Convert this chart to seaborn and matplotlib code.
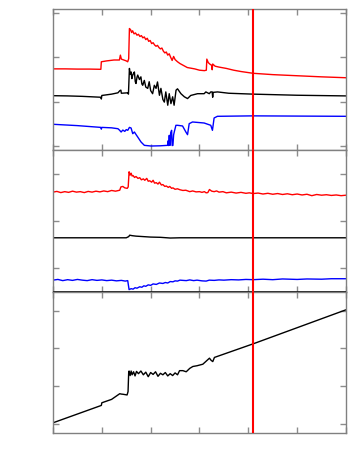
import matplotlib
matplotlib.use('Agg')
import matplotlib.pyplot as plt
import seaborn as sns

# Painel superior
top_red_x = [0, 0.25, 0.5, 0.75, 0.98, 0.99, 1.1, 1.25, 1.36, 1.38, 1.40, 1.45, 1.50, 1.53, 1.55,
             1.565, 1.59, 1.61, 1.63, 1.66, 1.69, 1.72, 1.75, 1.78, 1.81, 1.84, 1.87, 1.90, 1.93, 1.96,
             1.99, 2.02, 2.05, 2.08, 2.11, 2.14, 2.17, 2.20, 2.23, 2.26, 2.29, 2.32, 2.35, 2.38, 2.41,
             2.44, 2.47, 2.50, 2.55, 2.60, 2.65, 2.70, 2.75, 2.80, 2.90, 3.00, 3.10, 3.14, 3.15, 3.18,
             3.22, 3.25, 3.26, 3.27, 3.32, 3.40, 3.55, 3.70, 3.85, 4.1, 4.5, 5.0, 5.5, 6.0]
top_red_y = [1.74, 1.74, 1.735, 1.735, 1.73, 1.90, 1.92, 1.94, 1.94, 2.05, 1.96, 1.94, 1.92, 1.90, 1.97,
             2.65, 2.62, 2.56, 2.60, 2.53, 2.55, 2.50, 2.52, 2.47, 2.49, 2.44, 2.46, 2.40, 2.43, 2.36,
             2.38, 2.31, 2.33, 2.28, 2.25, 2.27, 2.22, 2.19, 2.21, 2.14, 2.10, 2.12, 2.05, 2.08, 2.00,
             1.93, 2.02, 1.95, 1.90, 1.86, 1.83, 1.80, 1.77, 1.76, 1.74, 1.71, 1.70, 1.71, 1.96, 1.88,
             1.84, 1.82, 1.72, 1.85, 1.80, 1.78, 1.75, 1.71, 1.68, 1.64, 1.61, 1.585, 1.56, 1.54]

top_black_x = [0, 0.3, 0.6, 0.98, 0.99, 1.0, 1.2, 1.33, 1.37, 1.39, 1.40, 1.53, 1.545, 1.565, 1.58,
               1.60, 1.615, 1.633, 1.65, 1.667, 1.685, 1.70, 1.72, 1.735, 1.77, 1.80, 1.82, 1.837, 1.87, 1.90,
               1.94, 1.97, 2.00, 2.04, 2.075, 2.11, 2.14, 2.18, 2.21, 2.25, 2.28, 2.31, 2.35, 2.38, 2.415,
               2.45, 2.48, 2.52, 2.55, 2.62, 2.69, 2.755, 2.82, 2.96, 3.095, 3.13, 3.20, 3.23, 3.26, 3.27,
               3.28, 3.37, 3.6, 4.1, 5.0, 6.0]
top_black_y = [1.135, 1.13, 1.12, 1.10, 1.06, 1.14, 1.17, 1.20, 1.25, 1.26, 1.19, 1.20, 1.17, 1.75, 1.62,
               1.67, 1.52, 1.60, 1.64, 1.67, 1.45, 1.41, 1.55, 1.60, 1.50, 1.56, 1.40, 1.37, 1.48, 1.33,
               1.30, 1.45, 1.25, 1.18, 1.37, 1.30, 1.445, 1.144, 1.30, 1.05, 0.99, 1.22, 0.92, 1.18, 0.956,
               1.11, 0.92, 1.26, 1.29, 1.18, 1.11, 1.07, 1.14, 1.18, 1.18, 1.22, 1.18, 1.22, 1.22, 1.10,
               1.21, 1.22, 1.19, 1.17, 1.145, 1.13]

top_blue_x = [0, 0.5, 0.98, 0.99, 1.0, 1.2, 1.33, 1.36, 1.395, 1.43, 1.47, 1.50, 1.531, 1.565, 1.599,
              1.633, 1.667, 1.70, 1.735, 1.803, 1.871, 2.007, 2.20, 2.347, 2.36, 2.37, 2.381, 2.39, 2.401, 2.41,
              2.429, 2.44, 2.456, 2.47, 2.483, 2.517, 2.551, 2.653, 2.721, 2.755, 2.789, 2.857, 3.095, 3.231,
              3.265, 3.299, 3.367, 4.1, 5.0, 6.0]
top_blue_y = [0.49, 0.46, 0.42, 0.38, 0.42, 0.41, 0.39, 0.36, 0.316, 0.36, 0.33, 0.37, 0.354, 0.42, 0.406,
              0.278, 0.316, 0.26, 0.203, 0.09, 0.015, 0.0, 0.005, 0.015, 0.12, 0.01, 0.241, 0.02, 0.015, 0.30,
              0.354, 0.01, 0.015, 0.25, 0.316, 0.467, 0.467, 0.452, 0.316, 0.256, 0.504, 0.542, 0.519, 0.467,
              0.354, 0.632, 0.67, 0.68, 0.675, 0.67]

# Painel do meio
mid_red_x = [0, 0.08, 0.16, 0.24, 0.32, 0.40, 0.48, 0.56, 0.64, 0.72, 0.80, 0.88, 0.96, 1.04, 1.12,
             1.20, 1.28, 1.367,
             1.39, 1.43, 1.47, 1.52, 1.54, 1.558, 1.58, 1.60, 1.62, 1.64, 1.67, 1.70, 1.74, 1.776, 1.81,
             1.85, 1.88, 1.92, 1.95, 1.98, 2.02, 2.05, 2.08, 2.116, 2.15, 2.18, 2.22, 2.25, 2.29, 2.32,
             2.36, 2.39, 2.43, 2.456, 2.50, 2.55, 2.60, 2.66, 2.72, 2.80, 2.86, 2.93, 3.00, 3.05, 3.10,
             3.136, 3.17, 3.204, 3.25, 3.30, 3.35, 3.40, 3.48, 3.55, 3.65, 3.75, 3.85, 3.95, 4.02, 4.1,
             4.2, 4.3, 4.4, 4.5, 4.6, 4.7, 4.8, 4.9, 5.0, 5.1, 5.2, 5.3, 5.4, 5.5, 5.6, 5.7, 5.8, 5.9, 6.0]
mid_red_y = [0.61, 0.625, 0.60, 0.62, 0.605, 0.63, 0.61, 0.62, 0.60, 0.625, 0.61, 0.63, 0.615, 0.635, 0.62,
             0.645, 0.63, 0.65,
             0.72, 0.73, 0.70, 0.69, 0.72, 1.04, 0.97, 1.01, 0.95, 0.96, 0.92, 0.94, 0.90, 0.915, 0.87,
             0.89, 0.86, 0.90, 0.84, 0.85, 0.82, 0.86, 0.80, 0.81, 0.78, 0.82, 0.76, 0.77, 0.73, 0.74,
             0.71, 0.73, 0.69, 0.70, 0.67, 0.68, 0.66, 0.645, 0.65, 0.62, 0.635, 0.615, 0.62, 0.605, 0.62,
             0.595, 0.60, 0.665, 0.63, 0.62, 0.635, 0.61, 0.62, 0.595, 0.61, 0.59, 0.605, 0.585, 0.595, 0.58,
             0.59, 0.57, 0.585, 0.565, 0.58, 0.56, 0.575, 0.555, 0.57, 0.55, 0.565, 0.535, 0.56, 0.545, 0.555,
             0.54, 0.55, 0.535, 0.545]

mid_black_x = [0, 1.0, 1.5, 1.55, 1.571, 1.62, 1.70, 1.85, 2.0, 2.2, 2.4, 2.6, 3.0, 4.0, 5.0, 6.0]
mid_black_y = [-0.355, -0.355, -0.355, -0.33, -0.30, -0.31, -0.32, -0.33, -0.34, -0.345, -0.36, -0.355,
               -0.355, -0.355, -0.355, -0.355]

mid_blue_x = [0, 0.1, 0.2, 0.3, 0.4, 0.5, 0.6, 0.7, 0.8, 0.9, 1.0, 1.1, 1.2, 1.3, 1.4, 1.48, 1.53,
              1.558, 1.60, 1.64, 1.68, 1.72, 1.776, 1.82, 1.86, 1.90, 1.95, 2.0, 2.05, 2.116, 2.18, 2.25,
              2.30, 2.35, 2.40, 2.456, 2.50, 2.55, 2.60, 2.66, 2.73, 2.80, 2.88, 2.95, 3.05, 3.136, 3.2,
              3.3, 3.4, 3.5, 3.65, 3.8, 3.95, 4.1, 4.3, 4.5, 4.7, 5.0, 5.2, 5.5, 5.7, 6.0]
mid_blue_y = [-1.25, -1.235, -1.26, -1.24, -1.255, -1.235, -1.25, -1.26, -1.24, -1.255, -1.245, -1.26,
              -1.25, -1.265, -1.255, -1.27, -1.26,
              -1.45, -1.43, -1.44, -1.41, -1.42, -1.39, -1.40, -1.37, -1.38, -1.35, -1.36, -1.33, -1.34,
              -1.31, -1.32, -1.30, -1.31, -1.28, -1.285, -1.265, -1.27, -1.25, -1.255, -1.26, -1.245,
              -1.26, -1.25, -1.265, -1.27, -1.25, -1.255, -1.245, -1.25, -1.24, -1.245, -1.235, -1.24,
              -1.23, -1.24, -1.225, -1.235, -1.225, -1.23, -1.22, -1.22]

# Painel inferior
bot_x = [0, 0.99, 1.0, 1.2, 1.367, 1.40, 1.435, 1.517, 1.537, 1.55, 1.558, 1.58, 1.60, 1.62, 1.65,
         1.68, 1.71, 1.75, 1.80, 1.85, 1.90, 1.95, 2.00, 2.05, 2.10, 2.15, 2.20, 2.25, 2.30, 2.35,
         2.40, 2.45, 2.50, 2.55, 2.592, 2.66, 2.728, 2.80, 2.864, 2.95, 3.068, 3.204, 3.24, 3.272, 3.306,
         4.1, 6.0]
bot_y = [0.03, 0.49, 0.56, 0.65, 0.80, 0.79, 0.785, 0.767, 0.855, 1.36, 1.40, 1.28, 1.40, 1.30, 1.38,
         1.27, 1.39, 1.33, 1.40, 1.30, 1.37, 1.25, 1.36, 1.31, 1.38, 1.26, 1.34, 1.30, 1.36, 1.27,
         1.33, 1.28, 1.35, 1.30, 1.41, 1.41, 1.38, 1.47, 1.52, 1.54, 1.58, 1.74, 1.68, 1.65, 1.76,
         2.12, 3.02]

marker_x = 4.1
x_ticks = [0, 1, 2, 3, 4, 5, 6]

sns.set_style('white')
fig = plt.figure(figsize=(3.54, 4.72), dpi=100)

left, width = 0.1497, 0.8277
ax1 = fig.add_axes([left, 0.6822, width, 0.2987])
ax2 = fig.add_axes([left, 0.3814, width, 0.3008])
ax3 = fig.add_axes([left, 0.0826, width, 0.2987])

lw = 1.0
sns.lineplot(x=top_red_x, y=top_red_y, ax=ax1, color='#ff0000', lw=lw, estimator=None, sort=False)
sns.lineplot(x=top_black_x, y=top_black_y, ax=ax1, color='black', lw=lw, estimator=None, sort=False)
sns.lineplot(x=top_blue_x, y=top_blue_y, ax=ax1, color='#0000ff', lw=lw, estimator=None, sort=False)

sns.lineplot(x=mid_red_x, y=mid_red_y, ax=ax2, color='#ff0000', lw=lw, estimator=None, sort=False)
sns.lineplot(x=mid_black_x, y=mid_black_y, ax=ax2, color='black', lw=lw, estimator=None, sort=False)
sns.lineplot(x=mid_blue_x, y=mid_blue_y, ax=ax2, color='#0000ff', lw=lw, estimator=None, sort=False)
ax2.axhline(-1.5, color='black', lw=1.2, zorder=5)

sns.lineplot(x=bot_x, y=bot_y, ax=ax3, color='black', lw=lw, estimator=None, sort=False)

ax1.set_ylim(-0.09, 3.09)
ax1.set_yticks([0, 1, 2, 3])
ax2.set_ylim(-1.5, 1.5)
ax2.set_yticks([-1, 0, 1])
ax3.set_ylim(-0.24, 3.49)
ax3.set_yticks([0, 1, 2, 3])

for ax in (ax1, ax2, ax3):
    ax.axvline(marker_x, color='#ff0000', lw=1.5, zorder=6)
    ax.set_xlim(0, 6)
    ax.set_xticks(x_ticks)
    ax.set_xlabel('')
    ax.set_ylabel('')
    ax.tick_params(direction='in', length=4, width=1, color='0.55',
                   top=True, right=True, bottom=True, left=True,
                   labelbottom=False, labelleft=False)
    for s in ax.spines.values():
        s.set_color('0.5')
        s.set_linewidth(1)

plt.savefig('out.png', dpi=100)
